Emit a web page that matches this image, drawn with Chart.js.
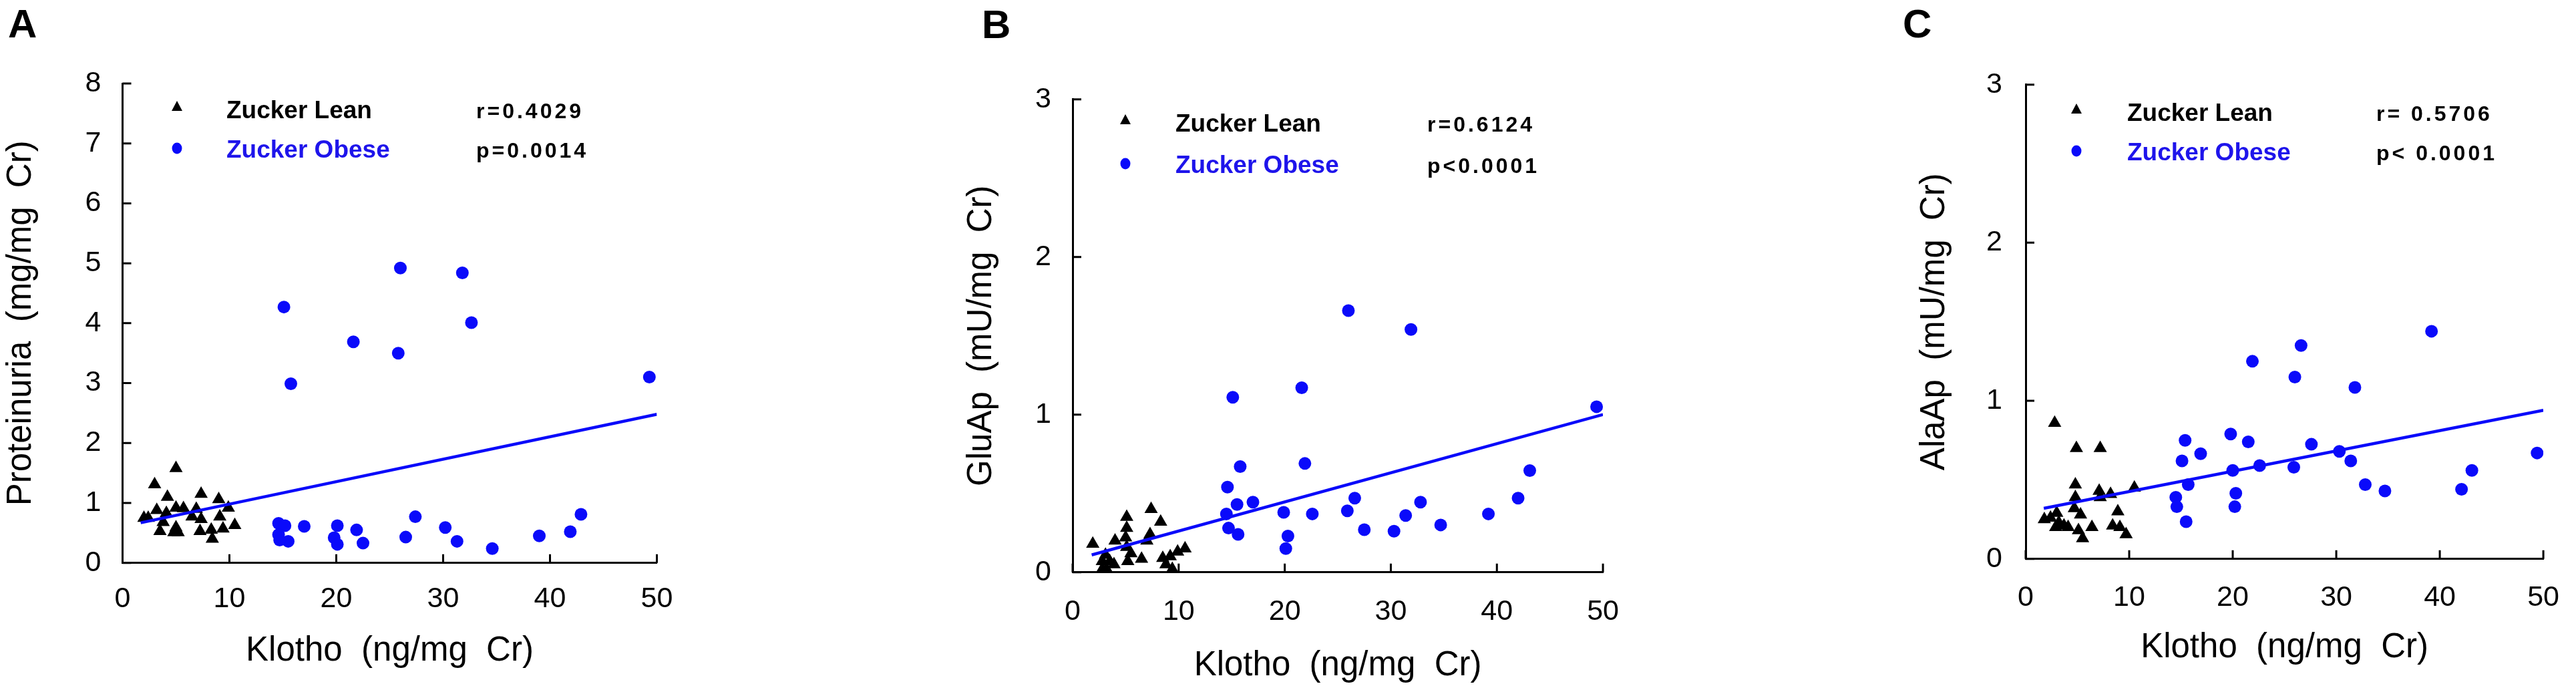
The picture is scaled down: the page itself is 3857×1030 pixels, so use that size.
<!DOCTYPE html>
<html>
<head>
<meta charset="utf-8">
<script src="https://cdn.jsdelivr.net/npm/chart.js@4.4.1/dist/chart.umd.min.js"></script>
<style>
  body { margin: 0; background: #fff; width: 3857px; height: 1030px; position: relative; overflow: hidden; }
  canvas { position: absolute; top: 0; }
</style>
</head>
<body>
<canvas id="chartA" width="1030" height="1030" style="left:0px"></canvas>
<canvas id="chartB" width="1030" height="1030" style="left:1420px"></canvas>
<canvas id="chartC" width="1037" height="1030" style="left:2820px"></canvas>
<script>
// values, [klotho, y]
const leanA = [[5.0,1.58],[3.0,1.31],[4.2,1.10],[7.35,1.15],[9.0,1.06],[9.9,0.92],[3.2,0.88],[2.0,0.75],[2.4,0.75],
  [5.0,0.92],[5.7,0.91],[4.1,0.83],[6.9,0.90],[6.5,0.77],[7.35,0.73],[9.1,0.77],[10.5,0.63],[3.5,0.53],[5.0,0.59],
  [5.2,0.51],[7.25,0.53],[8.3,0.55],[9.4,0.57],[8.4,0.40],[3.8,0.68],[4.8,0.51]];
const obeseA = [[14.6,0.66],[15.2,0.62],[14.6,0.47],[15.5,0.36],[14.7,0.38],[17.0,0.61],[20.1,0.62],[19.8,0.42],
  [20.1,0.31],[21.9,0.55],[22.5,0.33],[27.4,0.77],[26.5,0.43],[30.2,0.59],[31.3,0.36],[34.6,0.24],[39.0,0.45],
  [41.9,0.52],[42.9,0.81],[15.1,4.27],[15.75,2.99],[21.6,3.69],[26.0,4.92],[25.8,3.50],[31.8,4.84],[32.65,4.01],[49.3,3.10]];
const fitA = [[1.7,0.67],[50,2.48]];

const leanB = [[1.9,0.18],[2.8,0.07],[2.8,0.02],[3.5,0.07],[3.2,0.02],[3.9,0.05],[4.0,0.20],[5.1,0.35],[5.1,0.28],
  [5.0,0.22],[5.1,0.16],[5.5,0.12],[5.2,0.07],[6.5,0.085],[7.4,0.40],[8.3,0.32],[7.3,0.24],[7.0,0.20],[8.5,0.09],
  [9.2,0.10],[9.4,0.02],[9.9,0.13],[10.6,0.15],[3.1,0.11],[8.8,0.05]];
const obeseB = [[15.1,1.11],[21.6,1.17],[15.8,0.67],[21.9,0.69],[14.6,0.54],[15.5,0.43],[17.0,0.445],[14.5,0.37],
  [19.9,0.38],[22.6,0.37],[14.7,0.28],[15.6,0.24],[20.3,0.23],[20.1,0.15],[31.9,1.54],[49.4,1.05],[43.1,0.645],
  [42.0,0.47],[39.2,0.37],[26.6,0.47],[25.9,0.39],[27.5,0.27],[30.3,0.26],[31.4,0.36],[32.8,0.445],[34.7,0.30],[26.0,1.66]];
const fitB = [[1.8,0.11],[50,1.0]];

const leanC = [[2.8,0.86],[4.9,0.70],[7.2,0.70],[4.8,0.47],[7.1,0.43],[7.2,0.39],[8.2,0.41],[10.5,0.45],[4.8,0.39],
  [4.7,0.32],[5.3,0.28],[8.9,0.30],[1.8,0.25],[2.4,0.26],[3.0,0.29],[3.2,0.23],[3.7,0.21],[4.1,0.20],[5.1,0.18],
  [6.4,0.20],[5.5,0.13],[8.4,0.21],[9.1,0.20],[9.7,0.155],[2.9,0.20]];
const obeseC = [[21.9,1.25],[26.0,1.15],[26.6,1.35],[15.4,0.75],[19.8,0.79],[21.5,0.74],[16.9,0.665],[15.1,0.62],
  [20.0,0.56],[22.6,0.59],[15.7,0.47],[14.5,0.39],[14.6,0.33],[20.3,0.415],[20.2,0.33],[15.5,0.235],[25.9,0.58],
  [39.2,1.44],[31.8,1.085],[27.6,0.725],[30.3,0.68],[31.4,0.62],[32.8,0.47],[34.7,0.43],[42.1,0.44],[43.1,0.56],[49.4,0.67]];
const fitC = [[1.75,0.32],[50,0.94]];

const xRange = [0, 50];
const xStep = 10;
const seriesNames = ['Zucker Lean', 'Zucker Obese'];
const xTitle = 'Klotho  (ng/mg  Cr)';

const FONT = "'Liberation Sans', Arial, sans-serif";
const BLUE = 'rgb(10, 10, 250)';
const TEXT_BLUE = 'rgb(30, 20, 235)';
Chart.defaults.font.family = FONT;
Chart.defaults.color = '#000';

const toPts = arr => arr.map(([x, y]) => ({x, y}));

// page coordinates of each panel's plot box and annotations
const panels = [
  { id: 'chartA', left: 0, width: 1030, yMax: 8, yTitle: 'Proteinuria  (mg/mg  Cr)', lean: leanA, obese: obeseA, fit: fitA,
    area: {left: 183.5, right: 983.5, top: 125, bottom: 842.7}, yTitlePad: 1, xTitlePad: 24, xTickPad: 21, yTickPad: 24,
    letter: 'A', letterX: 12, letterY: 56, r: 'r=0.4029', p: 'p=0.0014',
    markX: 265, row1: 177, row2: 236, textX: 339, statX: 713 },
  { id: 'chartB', left: 1420, width: 1030, yMax: 3, yTitle: 'GluAp  (mU/mg  Cr)', lean: leanB, obese: obeseB, fit: fitB,
    area: {left: 1606, right: 2403.5, top: 148.7, bottom: 856.7}, yTitlePad: 19, xTitlePad: 2, xTickPad: 26, yTickPad: 24,
    letter: 'B', letterX: 1470, letterY: 57, r: 'r=0.6124', p: 'p<0.0001',
    markX: 1685, row1: 197, row2: 259, textX: 1760, statX: 2137 },
  { id: 'chartC', left: 2820, width: 1037, yMax: 3, yTitle: 'AlaAp  (mU/mg  Cr)', lean: leanC, obese: obeseC, fit: fitC,
    area: {left: 3033, right: 3823, top: 126.7, bottom: 836.7}, yTitlePad: 46, xTitlePad: 29, xTickPad: 25, yTickPad: 27,
    letter: 'C', letterX: 2849, letterY: 56, r: 'r= 0.5706', p: 'p< 0.0001',
    markX: 3109, row1: 181, row2: 240, textX: 3185, statX: 3558 }
];

// inward tick marks, panel letter and the in-plot legend
const decor = {
  id: 'decor',
  afterDraw(chart, args, o) {
    const ctx = chart.ctx;
    const {left, bottom} = chart.chartArea;
    const xs = chart.scales.x, ys = chart.scales.y;
    const off = o.left;
    ctx.save();
    ctx.strokeStyle = '#000';
    ctx.lineWidth = 3;
    ctx.beginPath();
    xs.ticks.forEach(t => {
      const px = xs.getPixelForValue(t.value);
      ctx.moveTo(px, bottom); ctx.lineTo(px, bottom - 13);
    });
    ys.ticks.forEach(t => {
      const py = ys.getPixelForValue(t.value);
      ctx.moveTo(left, py); ctx.lineTo(left + 13, py);
    });
    ctx.stroke();

    ctx.fillStyle = '#000';
    ctx.textBaseline = 'alphabetic';
    ctx.textAlign = 'left';
    ctx.font = 'bold 60px ' + FONT;
    ctx.fillText(o.letter, o.letterX - off, o.letterY);

    // legend markers
    const mx = o.markX - off;
    ctx.beginPath();
    ctx.moveTo(mx, o.row1 - 26);
    ctx.lineTo(mx + 8, o.row1 - 11);
    ctx.lineTo(mx - 8, o.row1 - 11);
    ctx.closePath();
    ctx.fill();
    ctx.fillStyle = BLUE;
    ctx.beginPath();
    ctx.ellipse(mx, o.row2 - 14, 7.5, 8.5, 0, 0, Math.PI * 2);
    ctx.fill();

    ctx.font = 'bold 37px ' + FONT;
    ctx.fillStyle = '#000';
    ctx.fillText(seriesNames[0], o.textX - off, o.row1);
    ctx.fillStyle = TEXT_BLUE;
    ctx.fillText(seriesNames[1], o.textX - off, o.row2);

    ctx.fillStyle = '#000';
    ctx.font = 'bold 32px ' + FONT;
    ctx.letterSpacing = '4px';
    ctx.fillText(o.r, o.statX - off, o.row1);
    ctx.fillText(o.p, o.statX - off, o.row2);
    ctx.restore();
  }
};

panels.forEach(p => {
  const a = p.area;
  new Chart(document.getElementById(p.id), {
    type: 'scatter',
    data: {
      datasets: [
        { label: seriesNames[0], data: toPts(p.lean), pointStyle: 'triangle', pointRadius: 11.5,
          backgroundColor: '#000', borderWidth: 0, order: 2 },
        { label: seriesNames[1], data: toPts(p.obese), pointStyle: 'circle', pointRadius: 9.5,
          backgroundColor: BLUE, borderWidth: 0, order: 1 },
        { label: 'fit', data: toPts(p.fit), showLine: true, pointRadius: 0, borderColor: BLUE,
          borderWidth: 4.5, order: 0 }
      ]
    },
    options: {
      responsive: false,
      animation: false,
      devicePixelRatio: 1,
      layout: { padding: { left: 0, top: a.top, right: p.left + p.width - a.right, bottom: 0 } },
      plugins: {
        legend: { display: false },
        tooltip: { enabled: false },
        decor: p
      },
      scales: {
        x: {
          type: 'linear', min: xRange[0], max: xRange[1],
          grid: { display: false },
          border: { display: true, color: '#000', width: 3 },
          ticks: { stepSize: xStep, padding: p.xTickPad, font: { size: 43 }, color: '#000' },
          title: { display: true, text: xTitle, font: { size: 51 }, color: '#000', padding: { top: 0, bottom: p.xTitlePad } },
          afterFit: s => { s.height = 1030 - a.bottom; }
        },
        y: {
          type: 'linear', min: 0, max: p.yMax,
          grid: { display: false },
          border: { display: true, color: '#000', width: 3 },
          ticks: { stepSize: 1, padding: p.yTickPad, font: { size: 43 }, color: '#000' },
          title: { display: true, text: p.yTitle, font: { size: 51 }, color: '#000', padding: { top: p.yTitlePad, bottom: 0 } },
          afterFit: s => { s.width = a.left - p.left; }
        }
      }
    },
    plugins: [decor]
  });
});
</script>
</body>
</html>
